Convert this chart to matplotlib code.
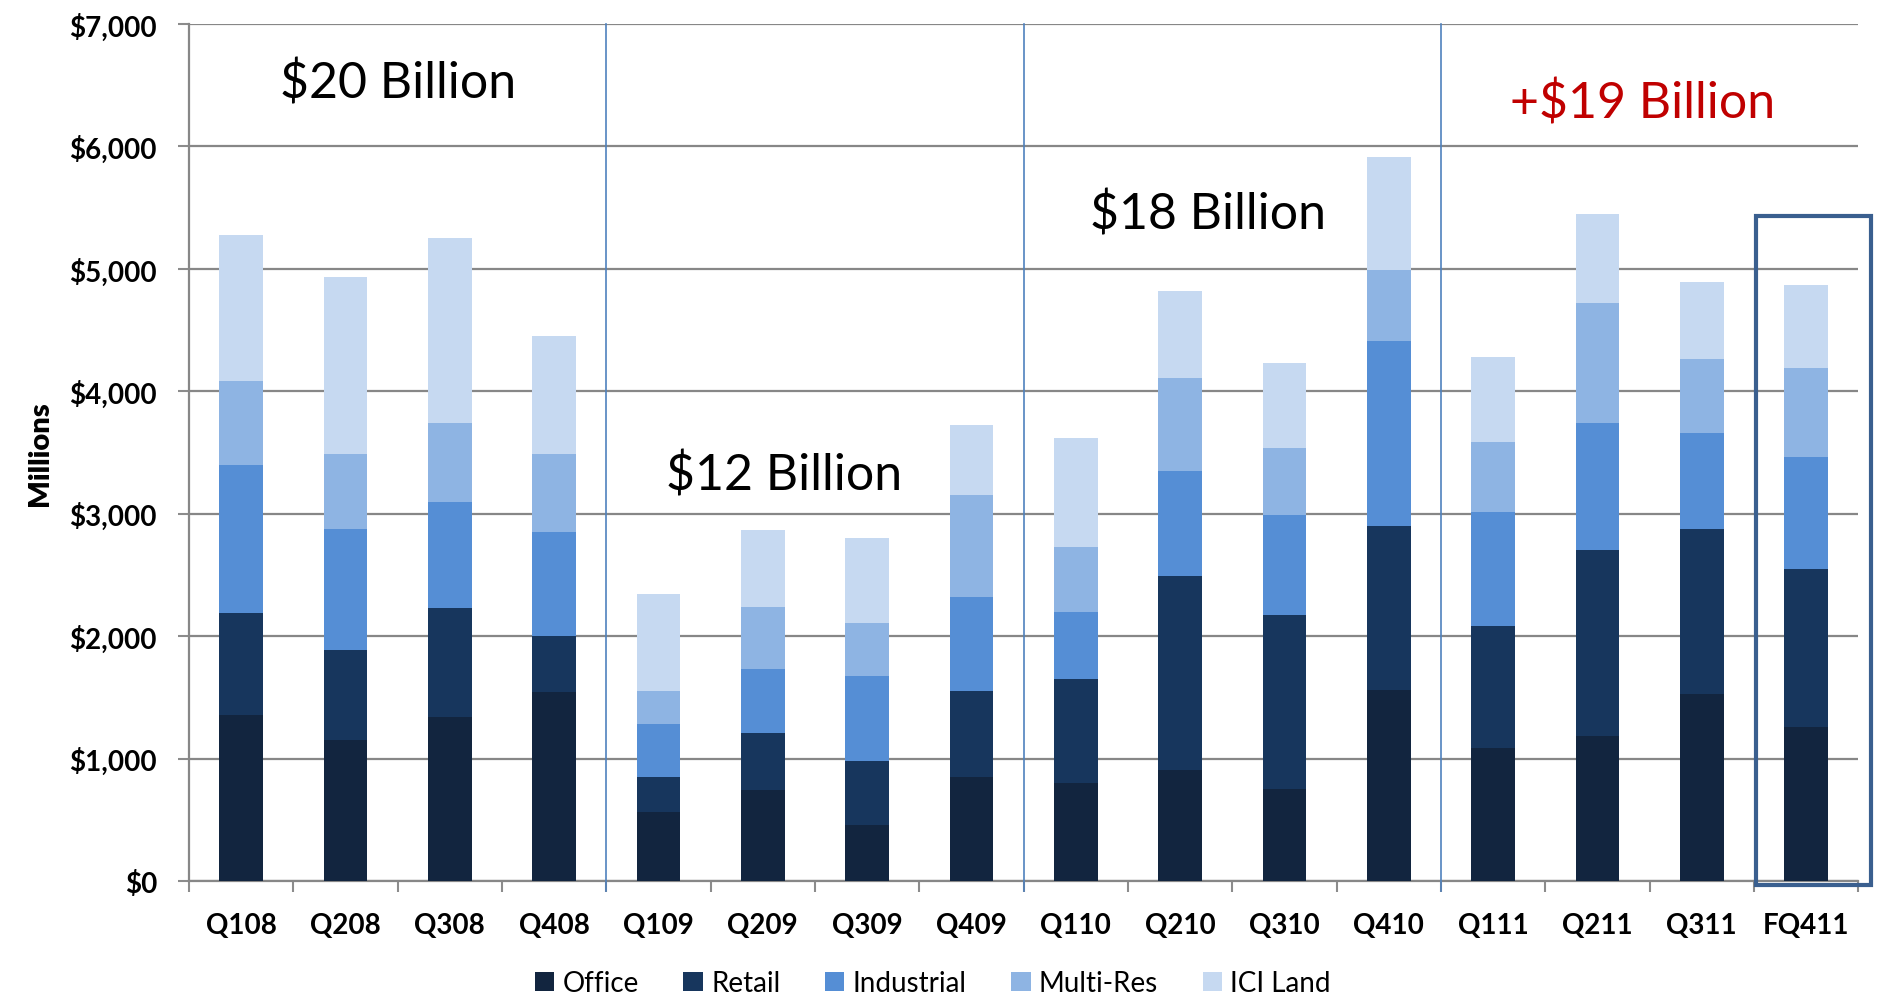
import numpy as np
import matplotlib.pyplot as plt
from matplotlib.patches import Rectangle

plt.rcParams['font.family'] = ['Lato', 'DejaVu Sans']

quarters = ["Q108", "Q208", "Q308", "Q408", "Q109", "Q209", "Q309", "Q409",
            "Q110", "Q210", "Q310", "Q410", "Q111", "Q211", "Q311", "FQ411"]

# cumulative tops, converted to segment sizes below
office_top = [1359, 1153, 1339, 1544, 567, 743, 459, 850,
              802, 909, 753, 1564, 1085, 1183, 1530, 1255]
retail_top = [2190, 1887, 2229, 2004, 850, 1212, 978, 1554,
              1652, 2493, 2170, 2903, 2082, 2708, 2874, 2547]
indus_top = [3402, 2874, 3099, 2854, 1281, 1730, 1672, 2317,
             2199, 3353, 2991, 4409, 3011, 3744, 3656, 3465]
multi_top = [4086, 3490, 3744, 3490, 1554, 2239, 2111, 3157,
             2727, 4106, 3539, 4995, 3587, 4721, 4262, 4190]
land_top = [5279, 4936, 5249, 4448, 2346, 2864, 2805, 3724,
            3617, 4819, 4233, 5914, 4282, 5445, 4897, 4867]

series_names = ["Office", "Retail", "Industrial", "Multi-Res", "ICI Land"]
colores = ["#12253f", "#17365d", "#558ed5", "#8eb4e3", "#c6d9f1"]

tops = np.array([office_top, retail_top, indus_top, multi_top, land_top], dtype=float)
bases = np.vstack([np.zeros(len(quarters)), tops[:-1]])
alturas = tops - bases

fig = plt.figure(figsize=(18.77, 10.03), dpi=100)
ax = fig.add_axes([0.1007, 0.1206, 0.8893, 0.8544])

x = np.arange(len(quarters))
for nome, cor, alt, base in zip(series_names, colores, alturas, bases):
    ax.bar(x, alt, bottom=base, width=0.42, color=cor, label=nome, zorder=3)

ax.set_xlim(-0.5, len(quarters) - 0.5)
ax.set_ylim(0, 7000)
ax.set_yticks(np.arange(0, 7001, 1000))
ax.set_yticklabels([f"${v:,.0f}" for v in np.arange(0, 7001, 1000)],
                   fontsize=20, fontweight='bold')
ax.set_xticks(x)
ax.set_xticklabels(quarters, fontsize=20, fontweight='bold')
ax.set_xticks(np.arange(-0.5, len(quarters)), minor=True)
ax.tick_params(axis='x', which='major', length=0, pad=22)
ax.tick_params(axis='x', which='minor', length=8, width=1.5, color='#8c8c8c', direction='out')
ax.tick_params(axis='y', length=8, width=1.5, color='#8c8c8c', pad=15)

ax.grid(axis='y', color='#878787', linewidth=1.6, zorder=0)
for lado in ['top', 'right']:
    ax.spines[lado].set_visible(False)
for lado in ['left', 'bottom']:
    ax.spines[lado].set_color('#878787')
    ax.spines[lado].set_linewidth(1.6)

ax.set_ylabel("Millions", fontsize=21, fontweight='heavy', labelpad=12)

# separadores entre anos
for xs in [3.5, 7.5, 11.5]:
    ax.plot([xs, xs], [-80, 7000], color='#4f81bd', linewidth=1.2,
            clip_on=False, zorder=4)

# caixa em volta do FQ411
ax.add_patch(Rectangle((14.52, -30), 1.1, 5465, fill=False, edgecolor='#3a5f8f',
                       linewidth=3, clip_on=False, zorder=5))

ax.text(1.5, 6520, "$20 Billion", fontsize=36, ha='center', va='center')
ax.text(5.2, 3314, "$12 Billion", fontsize=36, ha='center', va='center')
ax.text(9.27, 5445, "$18 Billion", fontsize=36, ha='center', va='center')
ax.text(13.43, 6354, "+$19 Billion", fontsize=36, ha='center', va='center',
        color='#c00000')

handles, labels = ax.get_legend_handles_labels()
fig.legend(handles, labels, loc='lower center', bbox_to_anchor=(0.497, 0.0), ncol=5,
           frameon=False, fontsize=20, handlelength=0.7, handleheight=0.7,
           handletextpad=0.3, columnspacing=1.6, borderaxespad=0.1, borderpad=0.1)

plt.savefig("out.png", dpi=100)
plt.close()
